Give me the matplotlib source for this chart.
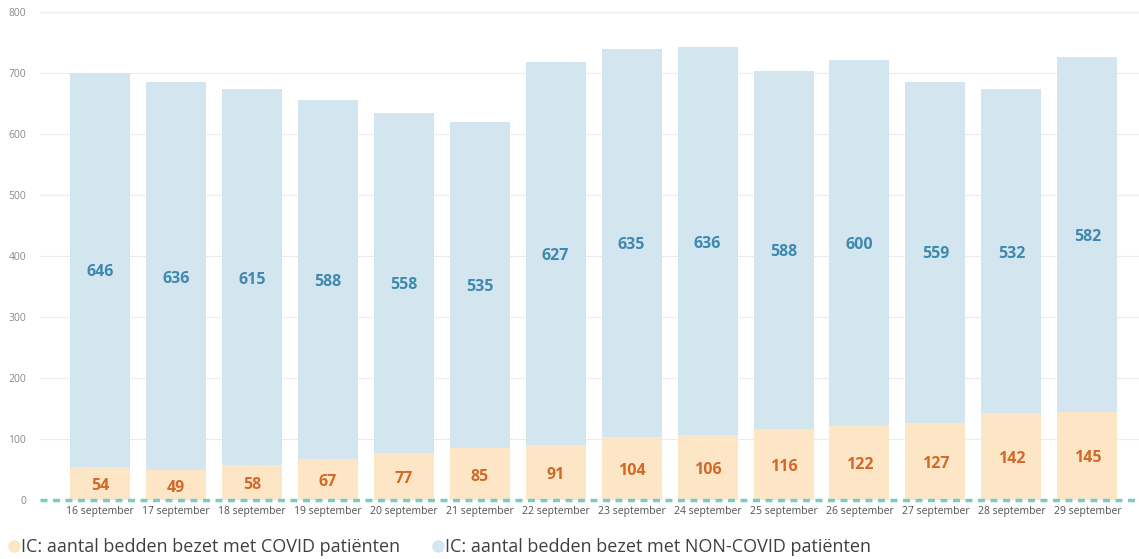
import matplotlib
matplotlib.use("Agg")
import matplotlib.pyplot as plt
from matplotlib.lines import Line2D

dates = ["16 september", "17 september", "18 september", "19 september", "20 september",
         "21 september", "22 september", "23 september", "24 september", "25 september",
         "26 september", "27 september", "28 september", "29 september"]
covid = [54, 49, 58, 67, 77, 85, 91, 104, 106, 116, 122, 127, 142, 145]
non_covid = [646, 636, 615, 588, 558, 535, 627, 635, 636, 588, 600, 559, 532, 582]
yticks = [0, 100, 200, 300, 400, 500, 600, 700, 800]
legend_labels = ["IC: aantal bedden bezet met COVID patiënten",
                 "IC: aantal bedden bezet met NON-COVID patiënten"]

plt.rcParams['font.family'] = ['Open Sans', 'DejaVu Sans']

c_covid = "#fde6c6"
c_non = "#d3e5ee"
t_covid = "#d2692b"
t_non = "#3f89b0"

fig = plt.figure(figsize=(11.39, 5.59), dpi=100)
ax = fig.add_axes([0.035, 0.1055, 0.965, 0.873])

x = list(range(len(dates)))
w = 0.79
ax.bar(x, covid, width=w, color=c_covid, zorder=2)
ax.bar(x, non_covid, width=w, bottom=covid, color=c_non, zorder=2)

for i in x:
    ax.text(i, covid[i] / 2 - 4, str(covid[i]), ha="center", va="center",
            color=t_covid, fontsize=11.5, fontweight="bold", zorder=3)
    ax.text(i, covid[i] + non_covid[i] / 2 - 4, str(non_covid[i]), ha="center", va="center",
            color=t_non, fontsize=11.5, fontweight="bold", zorder=3)

ax.set_xlim(-0.79, 13.68)
ax.set_ylim(0, 800)
ax.set_yticks(yticks)
ax.set_yticklabels([str(v) for v in yticks], color="#8a8a8a", fontsize=7.5)
ax.set_xticks(x)
ax.set_xticklabels(dates, color="#505050", fontsize=7.5)
ax.tick_params(length=0, pad=4)
ax.tick_params(axis="y", pad=10)
for s in ax.spines.values():
    s.set_visible(False)
ax.grid(axis="y", color="#ececec", linewidth=0.8, zorder=0)
ax.set_axisbelow(True)
ax.axhline(0, color="#76cdc2", linestyle=(0, (2, 1.6)), linewidth=2.5, zorder=4, clip_on=False)

handles = [Line2D([0], [0], marker="o", linestyle="", markersize=8,
                  markerfacecolor=c_covid, markeredgecolor=c_covid),
           Line2D([0], [0], marker="o", linestyle="", markersize=8,
                  markerfacecolor=c_non, markeredgecolor=c_non)]
fig.legend(handles, legend_labels, loc="lower left", bbox_to_anchor=(-0.010, -0.024),
           ncol=2, frameon=False, fontsize=13, handletextpad=-0.1, columnspacing=1.6,
           labelcolor="#404040", handlelength=1.0)

fig.savefig("out.png", dpi=100)
